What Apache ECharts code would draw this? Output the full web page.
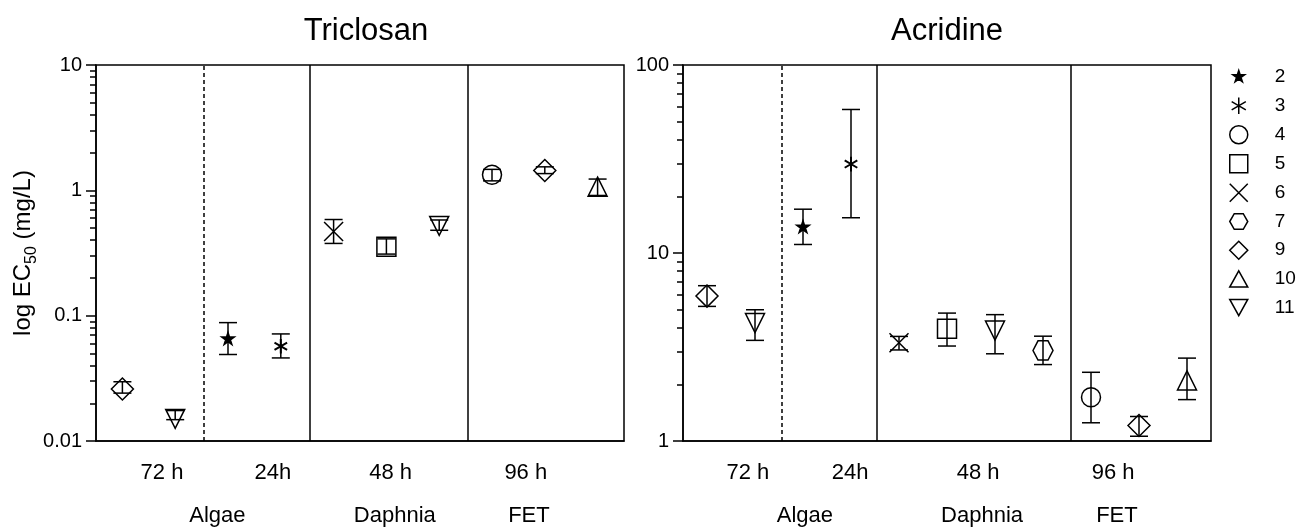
<!DOCTYPE html>
<html>
<head>
<meta charset="UTF-8">
<title>log EC50</title>
<script src="https://cdn.jsdelivr.net/npm/echarts@6.0.0/dist/echarts.min.js"></script>
<style>html,body{margin:0;padding:0;background:#fff;}</style>
</head>
<body>
<div id="main" style="width:1297px;height:530px;"></div>
<script type="text/javascript">
// legend entries (symbol ids)
var symbolIds = ['2', '3', '4', '5', '6', '7', '9', '10', '11'];

// Triclosan panel
var triSymbols = ['9', '11', '2', '3', '6', '5', '11', '4', '9', '10'];
var triValues = [0.026, 0.015, 0.065, 0.057, 0.47, 0.355, 0.52, 1.33, 1.44, 1.07];
var triLow = [0.0241, 0.0148, 0.049, 0.046, 0.377, 0.31, 0.48, 1.19, 1.36, 0.91];
var triHigh = [0.0297, 0.0175, 0.088, 0.0715, 0.585, 0.41, 0.58, 1.47, 1.54, 1.23];
var triDividers = [1.55, 3.55, 6.55];
var triTimeLabels = ['72 h', '24h', '48 h', '96 h'];
var triTimeAt = [0.75, 2.85, 5.08, 7.64];
var triGroupLabels = ['Algae', 'Daphnia', 'FET'];
var triGroupAt = [1.8, 5.16, 7.7];

// Acridine panel
var acrSymbols = ['9', '11', '2', '3', '6', '5', '11', '7', '4', '9', '10'];
var acrValues = [5.9, 4.24, 13.7, 29.7, 3.33, 3.96, 3.87, 3.03, 1.71, 1.21, 2.1];
var acrLow = [5.2, 3.43, 11.1, 15.4, 3.05, 3.2, 2.91, 2.55, 1.25, 1.06, 1.66];
var acrHigh = [6.7, 4.99, 17.1, 58, 3.6, 4.79, 4.7, 3.61, 2.32, 1.35, 2.76];
var acrDividers = [1.56, 3.54, 7.57];
var acrTimeLabels = ['72 h', '24h', '48 h', '96 h'];
var acrTimeAt = [0.85, 2.98, 5.65, 8.46];
var acrGroupLabels = ['Algae', 'Daphnia', 'FET'];
var acrGroupAt = [2.04, 5.73, 8.54];

var FONT = 'Arial, "Liberation Sans", sans-serif';

// marker shapes
var shapes = {
    '2': 'path://M-22 -22 Z M122 122 Z M50 0 L61.23 34.55 L97.55 34.55 L68.16 55.9 L79.39 90.45 L50 69.1 L20.61 90.45 L31.84 55.9 L2.45 34.55 L38.77 34.55 Z',
    '3': 'path://M-0.5 -0.5 Z M10.5 10.5 Z M5 0 L5 10 M0.67 2.5 L9.33 7.5 M9.33 2.5 L0.67 7.5',
    '4': 'circle',
    '5': 'rect',
    '6': 'path://M0 0 L10 10 M10 0 L0 10',
    '7': 'path://M0 0.5 Z M10 9.5 Z M0 5 L2.5 0.67 L7.5 0.67 L10 5 L7.5 9.33 L2.5 9.33 Z',
    '9': 'diamond',
    '10': 'path://M5 0 L10 9 L0 9 Z',
    '11': 'path://M0 0 L10 0 L5 9 Z'
};
var sizes = {'2': 19, '3': 16, '4': 19, '5': 19, '6': 19, '7': 20, '9': 22, '10': 19, '11': 19};

function lg(v) { return Math.log(v) / Math.LN10; }

function fmtLog(v) {
    var p = Math.round(v);
    return p < 0 ? Math.pow(10, p).toFixed(-p) : String(Math.round(Math.pow(10, p)));
}

function minorTicks(lo, hi) {
    var list = [];
    for (var d = lo; d < hi; d++) {
        for (var k = 2; k <= 9; k++) list.push(d + lg(k));
    }
    return list;
}

function pick(list, at) {
    return function (v) {
        var best = 0;
        for (var i = 1; i < at.length; i++) {
            if (Math.abs(at[i] - v) < Math.abs(at[best] - v)) best = i;
        }
        return list[best];
    };
}

var black = {color: '#000', width: 1.5};

function xAxes(grid, maxX, timeAt, timeLabels, groupAt, groupLabels) {
    return [{
        gridIndex: grid, type: 'value', min: -0.5, max: maxX, position: 'bottom',
        axisLine: {show: true, onZero: false, lineStyle: black},
        axisTick: {show: false}, splitLine: {show: false},
        axisLabel: {
            customValues: timeAt, formatter: pick(timeLabels, timeAt),
            fontSize: 22, color: '#000', fontFamily: FONT, margin: 21
        }
    }, {
        gridIndex: grid, type: 'value', min: -0.5, max: maxX, position: 'bottom',
        axisLine: {show: false, onZero: false}, axisTick: {show: false}, splitLine: {show: false},
        axisLabel: {
            customValues: groupAt, formatter: pick(groupLabels, groupAt),
            fontSize: 22, color: '#000', fontFamily: FONT, margin: 64
        }
    }];
}

function yAxes(grid, lo, hi, withName) {
    var main = {
        gridIndex: grid, type: 'value', min: lo, max: hi, interval: 1, position: 'left',
        axisLine: {show: true, onZero: false, lineStyle: black},
        axisTick: {show: true, length: 10, lineStyle: black},
        axisLabel: {fontSize: 20, color: '#000', fontFamily: FONT, margin: 14, formatter: fmtLog},
        splitLine: {show: false}
    };
    if (withName) {
        main.name = 'log EC{sub|50} (mg/L)';
        main.nameLocation = 'middle';
        main.nameRotate = 90;
        main.nameGap = 56;
        main.nameTextStyle = {
            fontSize: 24, color: '#000', fontFamily: FONT, lineHeight: 32,
            rich: {sub: {fontSize: 16, fontFamily: FONT, color: '#000', verticalAlign: 'bottom', lineHeight: 16}}
        };
    }
    var minor = {
        gridIndex: grid, type: 'value', min: lo, max: hi, position: 'left',
        axisLine: {show: false, onZero: false},
        axisTick: {show: true, length: 6, customValues: minorTicks(lo, hi), lineStyle: black},
        axisLabel: {show: false}, splitLine: {show: false}
    };
    return [main, minor];
}

function panelSeries(xi, yi, syms, vals, low, high, dividers) {
    var out = [];
    symbolIds.forEach(function (id) {
        var data = [];
        syms.forEach(function (s, i) { if (s === id) data.push([i, lg(vals[i])]); });
        if (!data.length) return;
        var isStar = id === '2';
        out.push({
            name: id, type: 'scatter', xAxisIndex: xi, yAxisIndex: yi,
            symbol: shapes[id], symbolSize: sizes[id], z: 3,
            itemStyle: {color: isStar ? '#000' : '#fff', borderColor: '#000', borderWidth: id === '3' ? 2 : 1.5, opacity: 1},
            data: data
        });
    });
    var bars = vals.map(function (v, i) { return [i, lg(low[i]), lg(high[i])]; });
    out.push({
        name: 'err', type: 'custom', xAxisIndex: xi, yAxisIndex: yi, z: 4, silent: true,
        encode: {x: 0, y: [1, 2]},
        data: bars,
        renderItem: function (params, api) {
            var x = api.value(0);
            var a = api.coord([x, api.value(1)]);
            var b = api.coord([x, api.value(2)]);
            var w = 9;
            var st = {stroke: '#000', lineWidth: 1.5};
            return {
                type: 'group', children: [
                    {type: 'line', shape: {x1: a[0], y1: a[1], x2: b[0], y2: b[1]}, style: st},
                    {type: 'line', shape: {x1: a[0] - w, y1: a[1], x2: a[0] + w, y2: a[1]}, style: st},
                    {type: 'line', shape: {x1: b[0] - w, y1: b[1], x2: b[0] + w, y2: b[1]}, style: st}
                ]
            };
        },
        markLine: {
            silent: true, symbol: ['none', 'none'], label: {show: false}, animation: false,
            data: dividers.map(function (d, i) {
                return {xAxis: d, lineStyle: {color: '#000', width: 1.5, type: i === 0 ? [4, 3] : 'solid'}};
            })
        }
    });
    return out;
}

var myChart = echarts.init(document.getElementById('main'));

var option = {
    animation: false,
    backgroundColor: '#fff',
    textStyle: {fontFamily: FONT},
    grid: [
        {left: 96, top: 65, width: 528, height: 376, show: true, borderColor: '#000', borderWidth: 1.5, outerBoundsMode: 'none'},
        {left: 683, top: 65, width: 528, height: 376, show: true, borderColor: '#000', borderWidth: 1.5, outerBoundsMode: 'none'}
    ],
    graphic: [
        {type: 'text', x: 366, y: 31, style: {text: 'Triclosan', fontSize: 31, fontFamily: FONT, fill: '#000', align: 'center', verticalAlign: 'middle'}},
        {type: 'text', x: 947, y: 31, style: {text: 'Acridine', fontSize: 31, fontFamily: FONT, fill: '#000', align: 'center', verticalAlign: 'middle'}}
    ],
    legend: {
        orient: 'vertical', left: 1224, top: 62, itemWidth: 18, itemHeight: 18, itemGap: 9.5,
        selectedMode: false, data: symbolIds,
        itemStyle: {borderWidth: 1.5, borderColor: '#000'},
        textStyle: {fontSize: 19, color: '#000', fontFamily: FONT, padding: [0, 0, 0, 22]}
    },
    xAxis: xAxes(0, 9.5, triTimeAt, triTimeLabels, triGroupAt, triGroupLabels)
        .concat(xAxes(1, 10.5, acrTimeAt, acrTimeLabels, acrGroupAt, acrGroupLabels)),
    yAxis: yAxes(0, -2, 1, true).concat(yAxes(1, 0, 2, false)),
    series: panelSeries(0, 0, triSymbols, triValues, triLow, triHigh, triDividers)
        .concat(panelSeries(2, 2, acrSymbols, acrValues, acrLow, acrHigh, acrDividers))
};

myChart.setOption(option);
</script>
</body>
</html>
